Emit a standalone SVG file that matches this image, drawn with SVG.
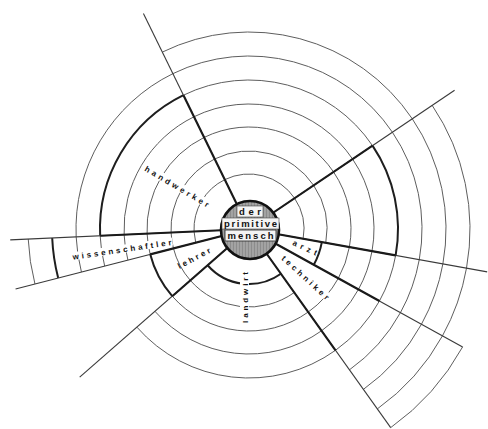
<svg xmlns="http://www.w3.org/2000/svg" width="488" height="429" viewBox="0 0 488 429">
<defs>
<pattern id="hatch" width="3" height="6" patternUnits="userSpaceOnUse">
<rect width="3" height="6" fill="#8c8c8c"/>
<line x1="1" y1="0" x2="1" y2="6" stroke="#c4c4c4" stroke-width="0.8"/>
</pattern>
</defs>
<style>
.thin{fill:none;stroke:#5e5e5e;stroke-width:1}
.thick{fill:none;stroke:#1e1e1e;stroke-width:2}
.sp{fill:none;stroke:#3a3a3a;stroke-width:1.1}
.spt{fill:none;stroke:#1a1a1a;stroke-width:2.1}
.lbl{font-family:"Liberation Sans",Arial,sans-serif;font-size:8px;font-weight:bold;fill:#111}
.bg{fill:#fff}
.ctr{font-family:"Liberation Sans",Arial,sans-serif;font-size:9.5px;font-weight:bold;fill:#111}
</style>
<rect width="488" height="429" fill="#fff"/>

<g id="sector-top">
<path class="thin" d="M224.81,179.61 A55,55 0 0 1 294.60,198.24"/>
<path class="thin" d="M214.69,158.96 A78,78 0 0 1 313.66,185.38"/>
<path class="thin" d="M204.13,137.40 A102,102 0 0 1 333.56,171.96"/>
<path class="thin" d="M194.01,116.75 A125,125 0 0 1 352.63,159.10"/>
<path class="thin" d="M183.45,95.20 A149,149 0 0 1 372.52,145.68"/>
<path class="thin" d="M172.90,73.65 A173,173 0 0 1 392.42,132.26"/>
<path class="thin" d="M162.34,52.09 A197,197 0 0 1 412.31,118.84"/>
</g>

<g id="sector-right">
<path class="thin" d="M294.60,198.24 A55,55 0 0 1 303.13,238.74"/>
<path class="thin" d="M313.66,185.38 A78,78 0 0 1 325.77,242.81"/>
<path class="thin" d="M333.56,171.96 A102,102 0 0 1 349.39,247.06"/>
<path class="thin" d="M352.63,159.10 A125,125 0 0 1 372.03,251.14"/>
<path class="thick" d="M372.52,145.68 A149,149 0 0 1 395.65,255.39"/>
<path class="thin" d="M392.42,132.26 A173,173 0 0 1 419.27,259.64"/>
<path class="thin" d="M412.31,118.84 A197,197 0 0 1 442.89,263.89"/>
<path class="thin" d="M432.21,105.42 A221,221 0 0 1 466.51,268.14"/>
</g>

<g id="handwerker">
<path class="thin" d="M194.06,231.50 A55,55 0 0 1 224.81,179.61"/>
<path class="thin" d="M171.08,232.54 A78,78 0 0 1 214.69,158.96"/>
<path class="thin" d="M147.10,233.63 A102,102 0 0 1 204.13,137.40"/>
<path class="thin" d="M124.13,234.68 A125,125 0 0 1 194.01,116.75"/>
<path class="thick" d="M100.15,235.76 A149,149 0 0 1 183.45,95.20"/>
<path class="thin" d="M76.17,236.85 A173,173 0 0 1 172.90,73.65"/>
<g transform="translate(177,186.5) rotate(30.6)">
<rect class="bg" x="-38" y="-5" width="76" height="9"/>
<text class="lbl" x="0" y="3" text-anchor="middle" textLength="73" lengthAdjust="spacing">handwerker</text>
</g>
</g>

<g id="arzt">
<path class="thin" d="M349.39,247.06 A102,102 0 0 1 338.30,278.30"/>
<path class="thin" d="M372.03,251.14 A125,125 0 0 1 358.44,289.41"/>
<path class="thin" d="M395.65,255.39 A149,149 0 0 1 379.45,301.01"/>
<path class="thin" d="M419.27,259.64 A173,173 0 0 1 400.46,312.61"/>
<path class="thin" d="M442.89,263.89 A197,197 0 0 1 421.47,324.21"/>
<path class="thin" d="M466.51,268.14 A221,221 0 0 1 442.49,335.81"/>
<path class="thick" d="M321.83,242.11 A74,74 0 0 1 313.79,264.76"/>
<g transform="translate(305,247.5) rotate(24.6)">
<text class="lbl" x="0" y="3" text-anchor="middle" textLength="26" lengthAdjust="spacing">arzt</text>
</g>
</g>

<g id="techniker">
<path class="thin" d="M338.30,278.30 A102,102 0 0 1 308.23,312.04"/>
<path class="thin" d="M358.44,289.41 A125,125 0 0 1 321.59,330.76"/>
<path class="thin" d="M379.45,301.01 A149,149 0 0 1 335.52,350.30"/>
<path class="thin" d="M400.46,312.61 A173,173 0 0 1 349.46,369.84"/>
<path class="thin" d="M421.47,324.21 A197,197 0 0 1 363.40,389.38"/>
<path class="thin" d="M442.49,335.81 A221,221 0 0 1 377.33,408.92"/>
<path class="thin" d="M462.62,346.93 A244,244 0 0 1 390.69,427.64"/>
<g transform="translate(305.5,277.5) rotate(42.3)">
<rect class="bg" x="-31" y="-4.5" width="62" height="8"/>
<text class="lbl" x="0" y="3" text-anchor="middle" textLength="61" lengthAdjust="spacing">techniker</text>
</g>
</g>

<g id="landwirt">
<path class="thin" d="M294.29,292.50 A78,78 0 0 1 190.31,280.38"/>
<path class="thin" d="M308.23,312.04 A102,102 0 0 1 172.26,296.19"/>
<path class="thin" d="M321.59,330.76 A125,125 0 0 1 154.95,311.34"/>
<path class="thin" d="M335.52,350.30 A149,149 0 0 1 136.89,327.15"/>
<path class="thick" d="M280.94,273.78 A55,55 0 0 1 207.62,265.23"/>
<g transform="translate(245,297.5) rotate(-90)">
<rect class="bg" x="-27" y="-5" width="54" height="9"/>
<text class="lbl" x="0" y="3" text-anchor="middle" textLength="51" lengthAdjust="spacing">landwirt</text>
</g>
</g>

<g id="lehrer">
<path class="thin" d="M190.31,280.38 A78,78 0 0 1 173.45,248.40"/>
<path class="thick" d="M172.26,296.19 A102,102 0 0 1 150.20,254.37"/>
<g transform="translate(194,258) rotate(-28)">
<text class="lbl" x="0" y="3" text-anchor="middle" textLength="36" lengthAdjust="spacing">lehrer</text>
</g>
</g>

<g id="wissenschaftler">
<path class="thin" d="M195.73,242.68 L194.06,231.50"/>
<path class="thin" d="M173.45,248.40 A78,78 0 0 1 171.08,232.54"/>
<path class="thin" d="M150.20,254.37 A102,102 0 0 1 147.10,233.63"/>
<path class="thin" d="M127.93,260.09 A125,125 0 0 1 124.13,234.68"/>
<path class="thin" d="M104.68,266.06 A149,149 0 0 1 100.15,235.76"/>
<path class="thin" d="M81.43,272.03 A173,173 0 0 1 76.17,236.85"/>
<path class="thick" d="M58.19,277.99 A197,197 0 0 1 52.20,237.94"/>
<path class="thin" d="M34.94,283.96 A221,221 0 0 1 28.22,239.03"/>
<g transform="translate(122,249.5) rotate(-8.5)">
<rect class="bg" x="-51" y="-4.5" width="102" height="8"/>
<text class="lbl" x="0" y="3" text-anchor="middle" textLength="100" lengthAdjust="spacing">wissenschaftler</text>
</g>
</g>

<g id="connectors">
<line class="sp" x1="249" y1="229" x2="143.42" y2="13.48"/>
<line class="sp" x1="249" y1="229" x2="454.59" y2="90.32"/>
<line class="sp" x1="249" y1="229" x2="487.18" y2="271.86"/>
<line class="sp" x1="249" y1="229" x2="462.62" y2="346.93"/>
<line class="sp" x1="249" y1="229" x2="390.69" y2="427.64"/>
<line class="sp" x1="249" y1="229" x2="79.71" y2="377.21"/>
<line class="sp" x1="249" y1="229" x2="15.57" y2="288.94"/>
<line class="sp" x1="249" y1="229" x2="10.24" y2="239.85"/>
<line class="spt" x1="249" y1="229" x2="183.45" y2="95.20"/>
<line class="spt" x1="249" y1="229" x2="372.52" y2="145.68"/>
<line class="spt" x1="249" y1="229" x2="395.65" y2="255.39"/>
<line class="spt" x1="249" y1="229" x2="379.45" y2="301.01"/>
<line class="spt" x1="249" y1="229" x2="335.52" y2="350.30"/>
<line class="spt" x1="249" y1="229" x2="172.26" y2="296.19"/>
<line class="spt" x1="249" y1="229" x2="150.20" y2="254.37"/>
<line class="spt" x1="249" y1="229" x2="100.15" y2="235.76"/>
</g>

<g id="center">
<circle cx="250" cy="230" r="29" fill="url(#hatch)" stroke="#111" stroke-width="2.6"/>
<rect x="237" y="206" width="26" height="11" fill="#f4f4f4" stroke="#444" stroke-width="0.6"/>
<rect x="222" y="218" width="57" height="11" fill="#f4f4f4" stroke="#444" stroke-width="0.6"/>
<rect x="225" y="230" width="51" height="11" fill="#f4f4f4" stroke="#333" stroke-width="0.9"/>
<text class="ctr" x="250" y="215" text-anchor="middle" textLength="22" lengthAdjust="spacing">der</text>
<text class="ctr" x="250.5" y="227" text-anchor="middle" textLength="53" lengthAdjust="spacing">primitive</text>
<text class="ctr" x="250.5" y="239" text-anchor="middle" textLength="46" lengthAdjust="spacing">mensch</text>
</g>
</svg>
